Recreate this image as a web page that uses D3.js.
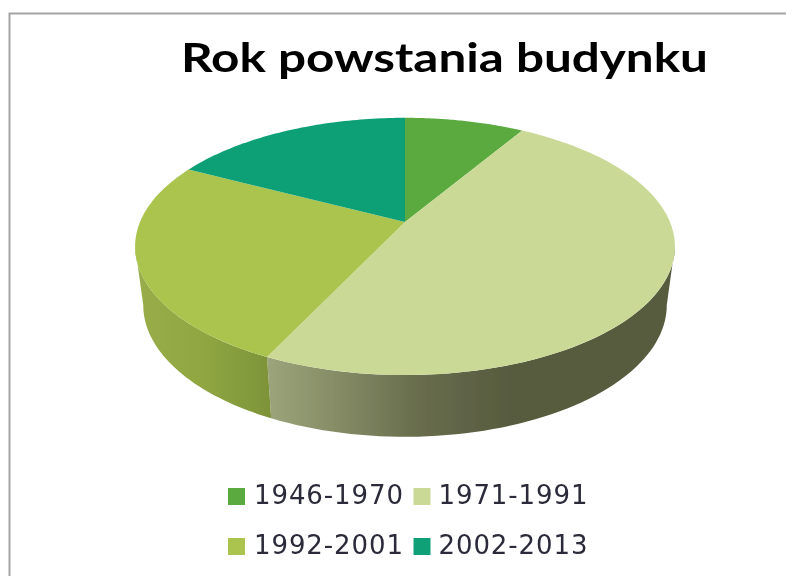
<!DOCTYPE html>
<html>
<head>
	<meta charset="utf-8">
	<title>Rok powstania budynku</title>
	<script src="https://cdnjs.cloudflare.com/ajax/libs/d3/7.8.5/d3.min.js"></script>
</head>
<style type="text/css">
	html, body { margin:0; padding:0; background:#fff; overflow:hidden; }
	svg { display:block; }
</style>
<body>
<script type="text/javascript">
	var categories = ["1946-1970", "1971-1991", "1992-2001", "2002-2013"];
	var values = [8.6, 48.5, 25.5, 17.4];
	var colors = ["#5aaa40", "#cbd996", "#aac44e", "#0fa077"];
	var title = "Rok powstania budynku";

	var width = 786, height = 576;
	var k = 0.19; // perspective strength
	var topDisc = {x:405, y:222, a:265, b:124};
	var baseDisc = {x:405, y:280, a:257, b:127};

	// circle point -> screen, far side gets squeezed
	function project(disc, angle) {
		var X = Math.sin(angle), Y = -Math.cos(angle);
		var w = 1 - k * Y;
		return [disc.x + disc.a * X / w, disc.y + disc.b * Y / w];
	}
	function arcPoints(disc, a0, a1) {
		return d3.range(0, 61).map(function(i){ return project(disc, a0 + (a1 - a0) * i / 60); });
	}

	var svg = d3.select("body").append("svg").attr("width", width).attr("height", height);
	var defs = svg.append("defs");
	defs.append("filter").attr("id", "soft").append("feGaussianBlur").attr("stdDeviation", 0.5);
	defs.append("filter").attr("id", "softText").append("feGaussianBlur").attr("stdDeviation", 0.35);

	function sideGradient(id, x1, x2, stops) {
		var g = defs.append("linearGradient").attr("id", id).attr("gradientUnits", "userSpaceOnUse")
			.attr("x1", x1).attr("x2", x2).attr("y1", 0).attr("y2", 0);
		stops.forEach(function(s){ g.append("stop").attr("offset", s[0]).attr("stop-color", s[1]); });
	}
	sideGradient("side1", 268, 510, [[0, "#9ca47c"], [0.3, "#848b64"], [0.6, "#696e4e"], [1, "#575b3e"]]);
	sideGradient("side2", 140, 268, [[0, "#98ad48"], [0.5, "#8fa642"], [1, "#7e9439"]]);

	var chart = svg.append("g").attr("filter", "url(#soft)");
	var line = d3.line();
	var pie = d3.pie().sort(null)(values);
	var color = d3.scaleOrdinal().domain(categories).range(colors);

	// frame
	chart.append("path").attr("d", line([[9.5, height], [9.5, 13.5], [width, 13.5]]))
		.attr("fill", "none").attr("stroke", "#a3a3a3").attr("stroke-width", 2);

	// visible rim runs between the two silhouette angles
	var rimStart = Math.PI - Math.acos(k), rimEnd = Math.PI + Math.acos(k);
	pie.forEach(function(d, i) {
		var a0 = Math.max(d.startAngle, rimStart), a1 = Math.min(d.endAngle, rimEnd);
		if (a1 <= a0) return;
		var pts = arcPoints(topDisc, a0, a1).concat(arcPoints(baseDisc, a1, a0));
		chart.append("path").attr("d", line(pts) + "Z").attr("fill", "url(#side" + i + ")");
	});

	// top faces
	pie.forEach(function(d, i) {
		var pts = [[topDisc.x, topDisc.y]].concat(arcPoints(topDisc, d.startAngle, d.endAngle));
		chart.append("path").attr("d", line(pts) + "Z").attr("fill", color(categories[i]));
	});

	svg.append("text").attr("x", 181).attr("y", 72)
		.attr("font-family", "Lato").attr("font-weight", 700).attr("font-size", 41)
		.attr("textLength", 527).attr("lengthAdjust", "spacingAndGlyphs")
		.attr("filter", "url(#softText)")
		.attr("fill", "#000").text(title);

	// legend, two rows of two
	var legendX = d3.scaleOrdinal().domain([0, 1]).range([228, 413.5]);
	var legendY = d3.scaleOrdinal().domain([0, 1]).range([488, 538]);
	categories.forEach(function(c, i) {
		var col = i % 2, row = Math.floor(i / 2);
		var g = svg.append("g").attr("transform", "translate(" + legendX(col) + "," + legendY(row) + ")");
		g.append("rect").attr("width", 17).attr("height", 17).attr("fill", color(c));
		g.append("text").attr("x", 26 - col).attr("y", 15.5)
			.attr("font-family", "DejaVu Sans").attr("font-size", 26).attr("letter-spacing", 0.9)
			.attr("filter", "url(#softText)")
			.attr("fill", "#2a2a3a").text(c);
	});
</script>
</body>
</html>
